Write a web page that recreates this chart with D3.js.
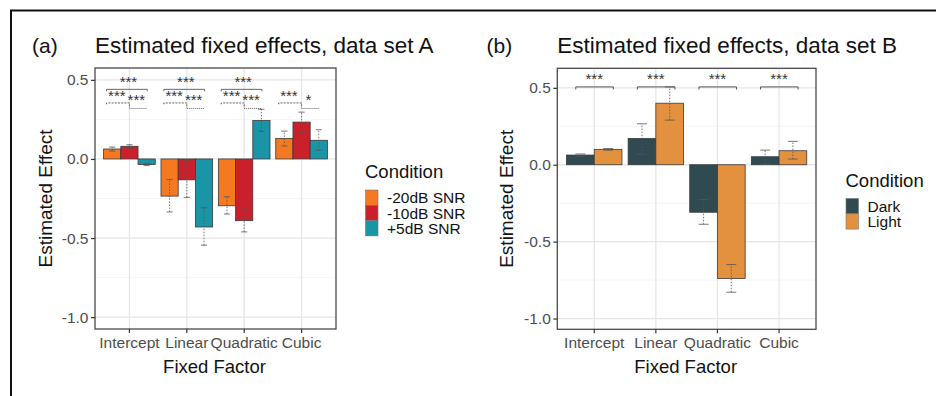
<!DOCTYPE html>
<html>
<head>
<meta charset="utf-8">
<script src="https://cdn.jsdelivr.net/npm/d3@7"></script>
<style>
  html, body { margin: 0; padding: 0; background: #fff; }
  svg { display: block; font-family: "Liberation Sans", Arial, sans-serif; }
</style>
</head>
<body>
<svg id="fig" width="936" height="396"></svg>
<script>
// ---- data ----
const categories = ["Intercept", "Linear", "Quadratic", "Cubic"];
const yTicks = [-1.0, -0.5, 0.0, 0.5];
const yMinor = [-0.75, -0.25, 0.25];

// data set A: three SNR conditions
const conditionsA = ["-20dB SNR", "-10dB SNR", "+5dB SNR"];
const estA_m20 = [0.063, -0.235, -0.296, 0.130];
const estA_m10 = [0.080, -0.132, -0.390, 0.233];
const estA_p5  = [-0.035, -0.430, 0.243, 0.118];
const loA_m20 = [0.050, -0.335, -0.348, 0.082];
const hiA_m20 = [0.075, -0.130, -0.239, 0.176];
const loA_m10 = [0.065, -0.243, -0.461, 0.168];
const hiA_m10 = [0.090, -0.008, -0.318, 0.296];
const loA_p5  = [-0.042, -0.545, 0.174, 0.055];
const hiA_p5  = [-0.028, -0.308, 0.314, 0.185];
// pairwise significance: -20 vs +5, -20 vs -10, -10 vs +5
const sigA_outer = ["***", "***", "***", ""];
const sigA_left  = ["***", "***", "***", "***"];
const sigA_right = ["***", "***", "***", "*"];

// data set B: two light conditions
const conditionsB = ["Dark", "Light"];
const estB_dark  = [0.063, 0.171, -0.309, 0.052];
const estB_light = [0.100, 0.400, -0.740, 0.091];
const loB_dark  = [0.055, 0.069, -0.387, 0.005];
const hiB_dark  = [0.070, 0.266, -0.227, 0.095];
const loB_light = [0.095, 0.290, -0.829, 0.037];
const hiB_light = [0.105, 0.506, -0.649, 0.152];
const sigB = ["***", "***", "***", "***"];

const colorsA = ["#F47920", "#C9202B", "#1A95A7"];
const colorsB = ["#2F4A51", "#E3903F"];

const svg = d3.select("#fig");

// figure frame
svg.append("line").attr("x1", 10).attr("x2", 936).attr("y1", 10.5).attr("y2", 10.5)
  .attr("stroke", "#111").attr("stroke-width", 2);
svg.append("line").attr("x1", 11).attr("x2", 11).attr("y1", 10).attr("y2", 396)
  .attr("stroke", "#111").attr("stroke-width", 2);

// significance stars: centre of the glyph sits at value v
function stars(g, xpos, ypix, label) {
  g.append("text").attr("x", xpos).attr("y", ypix + 9).attr("text-anchor", "middle")
    .style("font-size", "15px").attr("fill", "#333").text(label);
}

function drawPanel(cfg) {
  const g = svg.append("g");
  const { x0, x1, y0, y1 } = cfg;

  const x = d3.scaleBand().domain(categories).range([x0, x1])
    .paddingInner(0).paddingOuter(0.1);
  const step = x.bandwidth();
  const xs = d3.scaleBand().domain(cfg.conditions)
    .range([0.05 * step, 0.95 * step]).padding(0);
  const y = d3.scaleLinear().domain(cfg.yDomain).range([y1, y0]);

  // background grid
  g.append("rect").attr("x", x0).attr("y", y0).attr("width", x1 - x0).attr("height", y1 - y0)
    .attr("fill", "#fff");
  g.selectAll(".ymin").data(yMinor).join("line")
    .attr("x1", x0).attr("x2", x1).attr("y1", d => y(d)).attr("y2", d => y(d))
    .attr("stroke", "#F2F2F2").attr("stroke-width", 0.8);
  g.selectAll(".ymaj").data(yTicks).join("line")
    .attr("x1", x0).attr("x2", x1).attr("y1", d => y(d)).attr("y2", d => y(d))
    .attr("stroke", "#E6E6E6").attr("stroke-width", 1.3);
  g.selectAll(".xmaj").data(categories).join("line")
    .attr("x1", d => x(d) + step / 2).attr("x2", d => x(d) + step / 2)
    .attr("y1", y0).attr("y2", y1)
    .attr("stroke", "#E6E6E6").attr("stroke-width", 1.3);

  // bars
  const rows = [];
  cfg.conditions.forEach((c, ci) => {
    categories.forEach((cat, i) => {
      rows.push({ cat, cond: c, ci, v: cfg.est[ci][i], lo: cfg.lo[ci][i], hi: cfg.hi[ci][i] });
    });
  });
  g.selectAll(".bar").data(rows).join("rect")
    .attr("x", d => x(d.cat) + xs(d.cond))
    .attr("width", xs.bandwidth())
    .attr("y", d => y(Math.max(0, d.v)))
    .attr("height", d => Math.abs(y(d.v) - y(0)))
    .attr("fill", d => cfg.colors[d.ci])
    .attr("stroke", "#3a3a3a").attr("stroke-width", 0.8);

  // error bars
  const cap = xs.bandwidth() * 0.18;
  const eb = g.selectAll(".eb").data(rows).join("g")
    .attr("stroke", "#555").attr("stroke-width", 0.8);
  eb.append("line")
    .attr("x1", d => x(d.cat) + xs(d.cond) + xs.bandwidth() / 2)
    .attr("x2", d => x(d.cat) + xs(d.cond) + xs.bandwidth() / 2)
    .attr("y1", d => y(d.lo)).attr("y2", d => y(d.hi))
    .attr("stroke-dasharray", "1.5,1.5");
  ["lo", "hi"].forEach(k => {
    eb.append("line")
      .attr("x1", d => x(d.cat) + xs(d.cond) + xs.bandwidth() / 2 - cap)
      .attr("x2", d => x(d.cat) + xs(d.cond) + xs.bandwidth() / 2 + cap)
      .attr("y1", d => y(d[k])).attr("y2", d => y(d[k]));
  });

  // panel border
  g.append("rect").attr("x", x0).attr("y", y0).attr("width", x1 - x0).attr("height", y1 - y0)
    .attr("fill", "none").attr("stroke", "#4a4a4a").attr("stroke-width", 1.3);

  // axes
  const ya = g.append("g").attr("transform", `translate(${x0},0)`)
    .call(d3.axisLeft(y).tickValues(yTicks).tickFormat(d3.format(".1f")).tickSize(4).tickPadding(2.5));
  const xa = g.append("g").attr("transform", `translate(0,${y1})`)
    .call(d3.axisBottom(x).tickSize(4).tickPadding(4));
  [ya, xa].forEach(a => {
    a.select(".domain").remove();
    a.selectAll(".tick line").attr("stroke", "#333").attr("stroke-width", 1.2);
    a.selectAll(".tick text").attr("fill", "#4d4d4d")
      .style("font-size", "15.5px").style("font-family", "Liberation Sans, Arial, sans-serif");
  });
  ya.selectAll(".tick text").text(d => d3.format(".1f")(d).replace("\u2212", "-"));
  xa.selectAll(".tick text").attr("dy", "0.71em");

  // axis titles
  g.append("text").attr("transform", `translate(${cfg.yTitleX},${(y0 + y1) / 2}) rotate(-90)`)
    .attr("text-anchor", "middle").style("font-size", "19px").attr("fill", "#111")
    .text("Estimated Effect");
  g.append("text").attr("x", (x0 + x1) / 2 - 1).attr("y", 373)
    .attr("text-anchor", "middle").style("font-size", "18.5px").attr("fill", "#111")
    .text("Fixed Factor");

  // titles
  g.append("text").attr("x", cfg.tagX).attr("y", 53).style("font-size", "21px").attr("fill", "#111")
    .text(cfg.tag);
  g.append("text").attr("x", x0).attr("y", 53).style("font-size", "22.5px").attr("fill", "#111")
    .text(cfg.title);

  // legend
  const lg = g.append("g");
  lg.append("text").attr("x", cfg.legX).attr("y", cfg.legY).style("font-size", "18.5px").attr("fill", "#111")
    .text("Condition");
  cfg.conditions.forEach((c, i) => {
    const ky = cfg.legY + 12 + i * 15.3;
    lg.append("rect").attr("x", cfg.legX + 0.5).attr("y", ky).attr("width", 12.5).attr("height", 15.3)
      .attr("fill", cfg.colors[i]).attr("stroke", "#777").attr("stroke-width", 0.6);
    lg.append("text").attr("x", cfg.legX + 22).attr("y", ky + 7.65 + 5.8)
      .style("font-size", "15.5px").attr("fill", "#111").text(c);
  });

  return { g, x, y, step };
}

// ---- panel (a) ----
const A = drawPanel({
  x0: 95, x1: 336, y0: 68, y1: 329,
  yDomain: [-1.075, 0.575],
  conditions: conditionsA, colors: colorsA,
  est: [estA_m20, estA_m10, estA_p5],
  lo: [loA_m20, loA_m10, loA_p5],
  hi: [hiA_m20, hiA_m10, hiA_p5],
  yTitleX: 51.5, tag: "(a)", tagX: 32, title: "Estimated fixed effects, data set A",
  legX: 365, legY: 178
});

// significance brackets for data set A
(function () {
  const { g, x, y, step } = A;
  const sty = s => s.attr("stroke", "#555").attr("fill", "none").attr("stroke-width", 0.9);
  categories.forEach((cat, i) => {
    const c = x(cat) + step / 2;
    if (sigA_outer[i]) {
      sty(g.append("path").attr("d",
        `M${c - 0.4 * step},${y(0.428)}V${y(0.44)}H${c + 0.31 * step}V${y(0.428)}`));
      stars(g, c - 1, y(0.509), sigA_outer[i]);
    }
    sty(g.append("path").attr("d",
      `M${c - 0.4 * step},${y(0.346)}V${y(0.354)}H${c}V${y(0.322)}`)
      .attr("stroke-dasharray", "2,1.2"));
    sty(g.append("path").attr("d",
      `M${c},${y(0.319)}H${c + 0.31 * step}`).attr("stroke-dasharray", "1,1"));
    stars(g, c - 0.22 * step, y(0.423), sigA_left[i]);
    stars(g, c + 0.12 * step, y(0.396), sigA_right[i]);
  });
})();

// ---- panel (b) ----
const B = drawPanel({
  x0: 557.3, x1: 816, y0: 68.3, y1: 329.3,
  yDomain: [-1.07, 0.627],
  conditions: conditionsB, colors: colorsB,
  est: [estB_dark, estB_light],
  lo: [loB_dark, loB_light],
  hi: [hiB_dark, hiB_light],
  yTitleX: 513, tag: "(b)", tagX: 486.5, title: "Estimated fixed effects, data set B",
  legX: 845.5, legY: 186.5
});

// significance brackets for data set B
(function () {
  const { g, x, y, step } = B;
  categories.forEach((cat, i) => {
    const c = x(cat) + step / 2;
    g.append("path").attr("d",
      `M${c - 0.3 * step},${y(0.489)}V${y(0.506)}H${c + 0.31 * step}V${y(0.489)}`)
      .attr("stroke", "#555").attr("fill", "none").attr("stroke-width", 1);
    stars(g, c, y(0.582), sigB[i]);
  });
})();
</script>
</body>
</html>
